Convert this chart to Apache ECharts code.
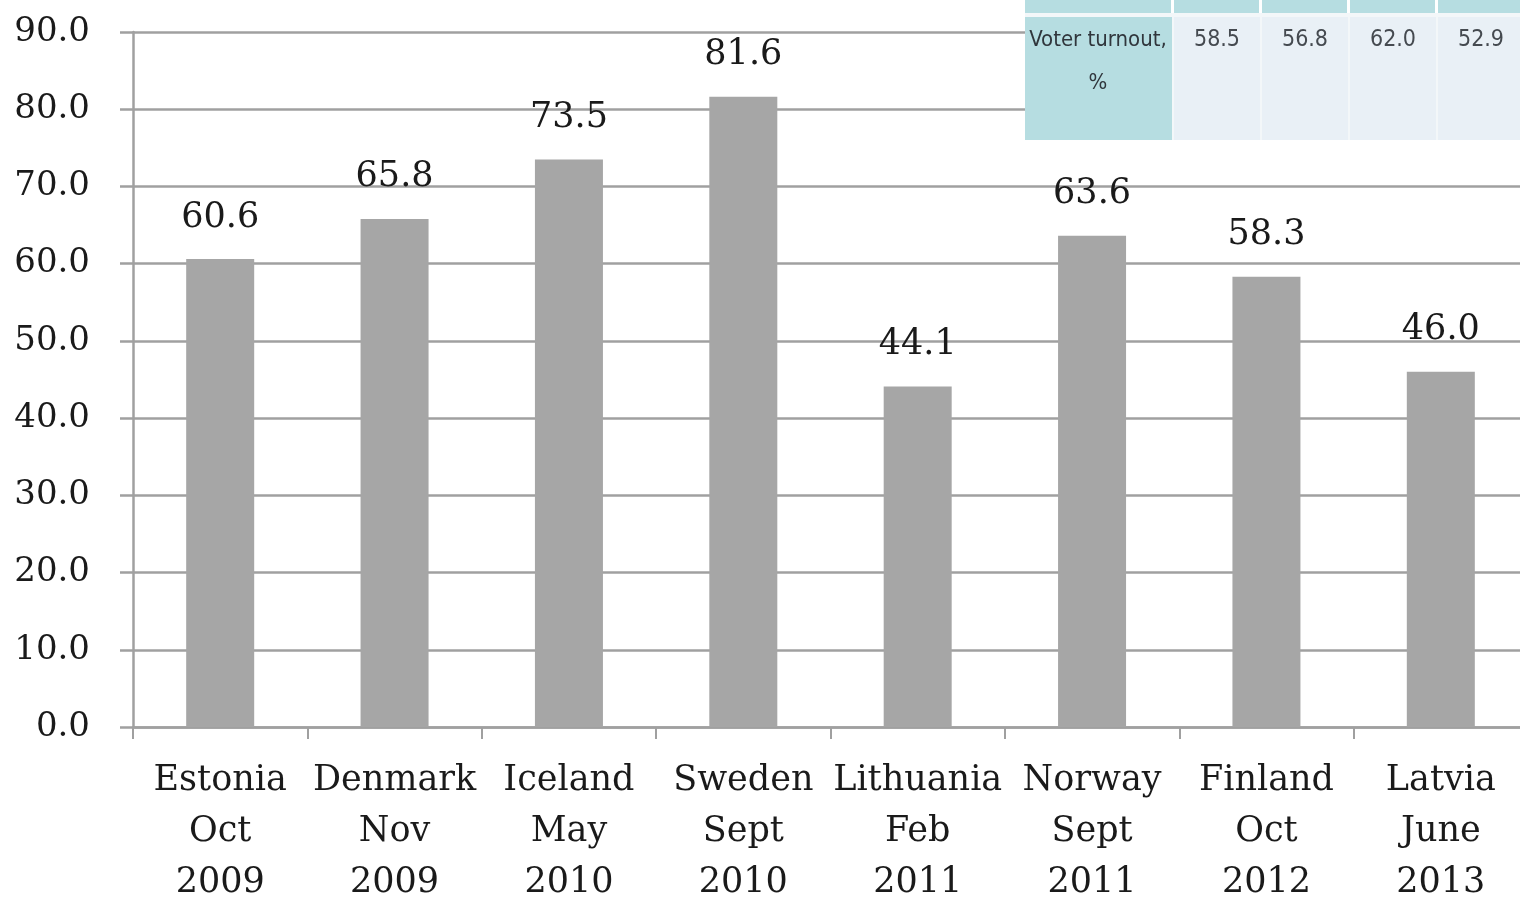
<!DOCTYPE html>
<html>
<head>
<meta charset="utf-8">
<style>html,body{margin:0;padding:0;background:#fff;overflow:hidden;}#chart{width:1520px;height:899px;}</style>
<script src="https://cdn.jsdelivr.net/npm/echarts@6/dist/echarts.min.js"></script>
</head>
<body>
<div id="chart"></div>
<script>
var countries = ['Estonia', 'Denmark', 'Iceland', 'Sweden', 'Lithuania', 'Norway', 'Finland', 'Latvia'];
var months = ['Oct', 'Nov', 'May', 'Sept', 'Feb', 'Sept', 'Oct', 'June'];
var years = ['2009', '2009', '2010', '2010', '2011', '2011', '2012', '2013'];
var values = [60.6, 65.8, 73.5, 81.6, 44.1, 63.6, 58.3, 46.0];
var tableRowLabel = 'Voter turnout,\n%';
var turnoutValues = ['58.5', '56.8', '62.0', '52.9'];

var categories = countries.map(function (c, i) { return c + '\n' + months[i] + '\n' + years[i]; });

var chart = echarts.init(document.getElementById('chart'), null, { width: 1520, height: 899 });

// overlay table (decoration at top-right)
var teal = '#b6dde1', cell = '#e9f0f6';
var colX = [1172, 1260, 1348, 1436, 1524];
var tableFont = '"Liberation Sans Narrow", "DejaVu Sans Condensed", sans-serif';
var graphics = [];
graphics.push({ type: 'rect', shape: { x: 1025, y: 0, width: 500, height: 140 }, style: { fill: '#f3f7f9' }, z: 99 });
graphics.push({ type: 'rect', shape: { x: 1025, y: 0, width: 500, height: 13 }, style: { fill: teal }, z: 100 });
graphics.push({ type: 'rect', shape: { x: 1025, y: 17, width: 147, height: 123 }, style: { fill: teal }, z: 100 });
for (var i = 0; i < turnoutValues.length; i++) {
  graphics.push({ type: 'rect', shape: { x: colX[i] + 2, y: 17, width: colX[i + 1] - colX[i] - 2, height: 123 }, style: { fill: cell }, z: 100 });
  graphics.push({ type: 'rect', shape: { x: colX[i] - 1, y: 0, width: 3, height: 13 }, style: { fill: '#ffffff' }, z: 101 });
  graphics.push({ type: 'text', x: (colX[i] + colX[i + 1]) / 2 + 1, y: 40, style: { text: turnoutValues[i], fill: '#454a50', font: '23px ' + tableFont, align: 'center', verticalAlign: 'middle' }, z: 102 });
}
graphics.push({ type: 'text', x: 1098, y: 19, style: { text: tableRowLabel, fill: '#30363c', font: '22px ' + tableFont, align: 'center', verticalAlign: 'top', lineHeight: 43 }, z: 102 });

chart.setOption({
  animation: false,
  backgroundColor: '#ffffff',
  grid: { left: 133, top: 32, height: 695, width: 1395, containLabel: false, outerBoundsMode: 'none' },
  xAxis: {
    type: 'category',
    data: categories,
    boundaryGap: true,
    axisLine: { show: true, lineStyle: { color: '#a0a0a0', width: 2.5 } },
    axisTick: { show: true, interval: 0, length: 12, lineStyle: { color: '#a0a0a0', width: 2 } },
    axisLabel: { interval: 0, margin: 28, color: '#1a1a1a', fontFamily: 'DejaVu Serif', fontSize: 35, lineHeight: 51 },
    splitLine: { show: false }
  },
  yAxis: {
    type: 'value',
    min: 0, max: 90, interval: 10,
    axisLine: { show: true, lineStyle: { color: '#a0a0a0', width: 2.5 } },
    axisTick: { show: true, length: 13, lineStyle: { color: '#a0a0a0', width: 2.5 } },
    axisLabel: { margin: 43, color: '#1a1a1a', fontFamily: 'DejaVu Serif', fontSize: 34, formatter: function (v) { return v.toFixed(1); } },
    splitLine: { show: true, lineStyle: { color: '#a0a0a0', width: 2.5 } }
  },
  series: [{
    type: 'bar',
    data: values,
    barWidth: '39%',
    itemStyle: { color: '#a6a6a6' },
    label: { show: true, position: 'top', distance: 24, color: '#1a1a1a', fontFamily: 'DejaVu Serif', fontSize: 35, formatter: function (p) { return p.value.toFixed(1); } }
  }],
  graphic: graphics
});
</script>
</body>
</html>
